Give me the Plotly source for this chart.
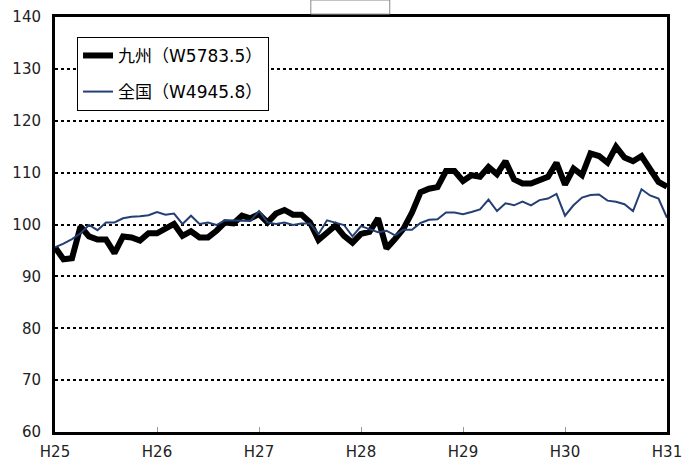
import plotly.graph_objects as go

months = list(range(73))
tick_vals = [0, 12, 24, 36, 48, 60, 72]
tick_text = ["H25", "H26", "H27", "H28", "H29", "H30", "H31"]

kyushu = [95.6, 93.3, 93.5, 99.6, 97.7, 97.1, 97.1, 94.5, 97.7, 97.5, 96.9, 98.3,
          98.3, 99.1, 100.1, 97.8, 98.7, 97.5, 97.5, 98.8, 100.4, 100.2, 101.7, 101.2,
          102.0, 100.4, 102.1, 102.8, 101.9, 101.9, 100.4, 97.0, 98.5, 99.8, 97.8, 96.5,
          98.2, 98.6, 101.2, 95.4, 97.2, 99.2, 102.3, 106.2, 106.9, 107.2, 110.3, 110.3,
          108.4, 109.5, 109.2, 111.1, 109.7, 112.2, 108.7, 107.9, 107.9, 108.6, 109.2, 111.9,
          107.7, 110.8, 109.5, 113.7, 113.2, 111.9, 115.0, 112.9, 112.2, 113.2, 110.6, 108.2,
          107.3]

zenkoku = [95.6, 96.3, 97.2, 98.3, 99.9, 98.9, 100.4, 100.4, 101.2, 101.5, 101.6, 101.8,
           102.4, 101.9, 102.1, 100.1, 101.7, 100.1, 100.4, 99.9, 100.8, 100.8, 100.8, 100.7,
           102.6, 100.4, 100.1, 100.4, 99.9, 100.2, 100.2, 98.1, 100.8, 100.4, 99.9, 97.7,
           99.7, 99.1, 98.5, 98.8, 97.9, 99.0, 99.0, 100.3, 100.9, 101.0, 102.3, 102.3,
           102.0, 102.4, 102.9, 104.8, 102.6, 104.1, 103.7, 104.4, 103.7, 104.7, 105.0, 105.9,
           101.7, 103.7, 105.2, 105.7, 105.8, 104.6, 104.4, 103.9, 102.6, 106.8, 105.6, 105.0,
           101.3]

names = ["九州（W5783.5）", "全国（W4945.8）"]

fig = go.Figure()
fig.add_trace(go.Scatter(x=months, y=kyushu, mode="lines", name=names[0],
                         line=dict(color="black", width=6), legendgroup="a"))
fig.add_trace(go.Scatter(x=months, y=zenkoku, mode="lines", name=names[1],
                         line=dict(color="#243F73", width=2), legendgroup="b"))

font_main = "DejaVu Sans, Verdana, sans-serif"

fig.update_layout(
    width=682, height=461,
    margin=dict(l=55, r=15, t=17, b=29, autoexpand=False),
    paper_bgcolor="white", plot_bgcolor="white",
    showlegend=True,
    legend=dict(x=0.036, y=0.952, xanchor="left", yanchor="top",
                bordercolor="black", borderwidth=1, bgcolor="white",
                font=dict(family="DejaVu Sans, Noto Sans CJK JP, sans-serif", size=17, color="black"),
                tracegroupgap=11, traceorder="grouped"),
    shapes=[dict(type="rect", xref="paper", yref="paper",
                 x0=0.418, x1=0.547, y0=1.007, y1=1.041,
                 line=dict(color="#888888", width=1), fillcolor="white")],
)

fig.update_xaxes(range=[0, 72], tickvals=tick_vals, ticktext=tick_text,
                 showgrid=False, zeroline=False, automargin=False,
                 ticklabeloverflow="allow", ticklabelstandoff=4,
                 showline=True, linecolor="black", linewidth=3, mirror=True,
                 ticks="inside", ticklen=5, tickcolor="#999999", tickwidth=1,
                 tickfont=dict(family=font_main, size=15, color="#222222"))
fig.update_yaxes(range=[60, 140], dtick=10, tick0=60,
                 showgrid=True, gridcolor="black", griddash="dot", gridwidth=1.5,
                 zeroline=False, automargin=False,
                 showline=True, linecolor="black", linewidth=3, mirror=True,
                 ticks="", ticklabelstandoff=8,
                 tickfont=dict(family=font_main, size=15, color="#222222"))

fig.write_html("out.html", config={"displayModeBar": False},
               post_script="document.body.style.margin='0';document.body.style.padding='0';document.body.style.overflow='hidden';")
